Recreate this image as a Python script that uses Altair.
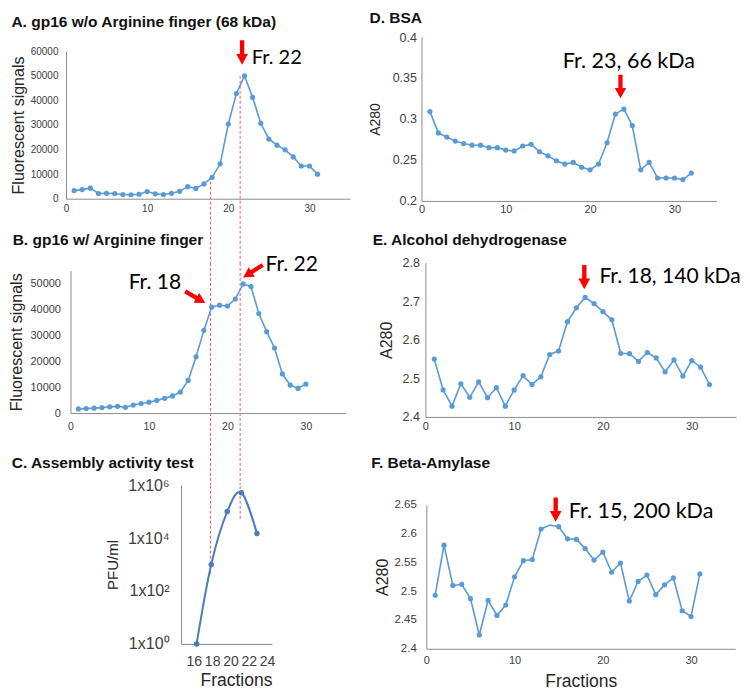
import altair as alt
import pandas as pd

# ---------------- data ----------------
a_fraction = list(range(1, 32))
a_signal = [3300, 3700, 4300, 2100, 2200, 2100, 1700, 1600, 1800, 2900, 2000, 1700,
            2200, 3000, 4900, 4200, 6000, 8700, 14200, 30400, 42800, 50000, 41200,
            30700, 24300, 21800, 19900, 17000, 13300, 13300, 10000]

b_fraction = list(range(1, 31))
b_signal = [1600, 1750, 1900, 2100, 2400, 2600, 2200, 3100, 3700, 4200, 4900, 5700,
            6600, 8100, 12600, 21700, 31900, 40900, 41600, 41300, 44000, 49800, 48800,
            38400, 31400, 25100, 15100, 10800, 9500, 11200]

c_fraction = [16.3, 17.9, 19.65, 21.2, 22.9]
c_pfu = [1, 1000, 100000, 520000, 15000]

d_fraction = list(range(1, 33))
d_a280 = [0.309, 0.283, 0.278, 0.273, 0.270, 0.268, 0.268, 0.265, 0.265, 0.262, 0.261,
          0.267, 0.269, 0.260, 0.255, 0.249, 0.245, 0.247, 0.241, 0.238, 0.245, 0.271,
          0.306, 0.312, 0.292, 0.238, 0.247, 0.228, 0.228, 0.228, 0.226, 0.234]

e_fraction = list(range(1, 33))
e_a280 = [2.550, 2.470, 2.428, 2.486, 2.451, 2.491, 2.450, 2.476, 2.428, 2.470, 2.507,
          2.484, 2.504, 2.562, 2.571, 2.647, 2.683, 2.710, 2.694, 2.673, 2.652, 2.565,
          2.564, 2.544, 2.567, 2.553, 2.517, 2.548, 2.506, 2.546, 2.529, 2.484]

f_fraction = list(range(1, 32))
f_a280 = [2.493, 2.580, 2.510, 2.512, 2.487, 2.424, 2.484, 2.458, 2.476, 2.525, 2.553,
          2.555, 2.608, 2.615, 2.612, 2.591, 2.590, 2.574, 2.554, 2.568, 2.533, 2.549,
          2.483, 2.517, 2.528, 2.494, 2.511, 2.523, 2.466, 2.456, 2.530]
f_no_marker = 14

# dashed guide lines (fractions in panel A units), start in A, end in C
dash_fraction = [17.8, 21.46]
dash_start_a = [9000, 50000]
dash_end_c = [450, 53000]

# annotations
a_arrow = ([21.7], [59500], [0])
a_text = ([22.9], [55000], ["Fr. 22"])
b_arrow = ([15.9, 23.25], [44700, 54700], [300, 57])
b_text_left = ([14.1], [47900], ["Fr. 18"])
b_text_right = ([24.85], [54770], ["Fr. 22"])
d_arrow = ([23.6], [0.3396], [0])
d_text = ([16.76], [0.3618], ["Fr. 23, 66 kDa"])
e_arrow = ([17.9], [2.7628], [0])
e_text = ([19.6], [2.7464], ["Fr. 18, 140 kDa"])
f_arrow = ([14.66], [2.6417], [0])
f_text = ([16.13], [2.6264], ["Fr. 15, 200 kDa"])

# ---------------- style ----------------
FONT = "Liberation Sans, Arial, sans-serif"
ANN_FONT = "Lato, Carlito, sans-serif"
BLUE = "#5b9bd5"
CBLUE = "#4a7ebb"
RED = "#ff0000"
DASH_RED = "#ff5a5a"
AXIS_GRAY = "#8c8c8c"
LABEL = "#404040"
TXT = "#262626"
ARROW = "M -0.18 -1 L 0.18 -1 L 0.18 0.12 L 0.48 0.12 L 0 1 L -0.48 0.12 L -0.18 0.12 Z"

# ---------------- layout ----------------
SX, SY = 0.975, 0.97
# plot rectangles of the original figure (x1, y1, x2, y2)
RECT = {"A": (58.7, 40.7, 350, 192.7), "B": (63.3, 266.7, 345, 413.7),
        "C": (176.7, 488, 270, 651.7), "D": (423.3, 26, 726, 195),
        "E": (427.3, 258.7, 746, 417.7), "F": (428.3, 508.3, 745, 656.7)}
COL_ORG = [58.7, 423.3]
ROW_ORG = [26, 258.7, 488]


def gx(x):
    return SX * (x - COL_ORG[0])


def gy(y):
    return SY * (y - ROW_ORG[0])


COLS = [0, round(gx(COL_ORG[1]))]
ROWS = [0, round(gy(ROW_ORG[1])), round(gy(ROW_ORG[2]))]
COL_W = [COLS[1], round(gx(746) - COLS[1])]
ROW_H = [ROWS[1], ROWS[2] - ROWS[1], round(gy(656.7) - ROWS[2]) + 1]


def cell(key, col, row):
    x1, y1, x2, y2 = RECT[key]
    return (gx(x1) - COLS[col], gy(y1) - ROWS[row], SX * (x2 - x1), SY * (y2 - y1))


PA, PB, PC = cell("A", 0, 0), cell("B", 0, 1), cell("C", 0, 2)
PD, PE, PF = cell("D", 1, 0), cell("E", 1, 1), cell("F", 1, 2)
C_DOM = [14.6, 24.55]
ASZ = 625 * SX * SY


def x_axis(values, size, pad, offset, title=None, title_x=0, title_y=0, title_size=17):
    kw = dict(values=values, labelFontSize=size, labelPadding=pad, labelFont=FONT,
              labelColor=LABEL, ticks=False, grid=False, domainColor=AXIS_GRAY,
              domainWidth=1, labelFlush=False, labelOverlap=False, offset=offset)
    if title:
        kw.update(title=title, titleFont=FONT, titleFontSize=title_size,
                  titleFontWeight="normal", titleColor=TXT, titleX=title_x,
                  titleY=title_y, titleAlign="center", titleBaseline="alphabetic",
                  titleAngle=0)
    else:
        kw["title"] = None
    return alt.Axis(**kw)


def y_axis(values, size, pad, title, title_size, title_dx, pa, fmt=None, expr=None):
    x0, y0, w, h = pa
    kw = dict(values=values, labelFontSize=size, labelPadding=pad, labelFont=FONT,
              labelColor=LABEL, ticks=False, grid=False, domainColor=AXIS_GRAY,
              domainWidth=1, labelOverlap=False, offset=-x0,
              title=title, titleFont=FONT, titleFontSize=title_size,
              titleFontWeight="normal", titleColor=TXT, titleX=SX * title_dx,
              titleY=y0 + h / 2, titleAngle=270, titleAlign="center", titleBaseline="middle")
    if fmt:
        kw["format"] = fmt
    if expr:
        kw["labelExpr"] = expr
    return alt.Axis(**kw)


def enc(xdom, ydom, xax, yax, pa, ytype="linear"):
    x0, y0, w, h = pa
    X = alt.X("x:Q", scale=alt.Scale(domain=xdom, range=[x0, x0 + w], nice=False, zero=False),
              axis=xax)
    Y = alt.Y("y:Q", scale=alt.Scale(type=ytype, domain=ydom, range=[y0 + h, y0], nice=False,
                                     zero=False), axis=yax)
    return X, Y


def series(X, Y, xs, ys, color=BLUE, interp="linear", lw=1.6, psize=27, hide=None):
    df = pd.DataFrame({"x": xs, "y": ys})
    line = alt.Chart(df).mark_line(color=color, strokeWidth=lw, interpolate=interp).encode(x=X, y=Y)
    pts = alt.Chart(df).mark_point(filled=True, size=psize, color=color, opacity=1).encode(x=X, y=Y)
    if hide is not None:
        pts = pts.transform_filter(f"datum.x != {hide}")
    return [line, pts]


def arrows(X, Y, spec, size=ASZ):
    xs, ys, angs = spec
    df = pd.DataFrame({"x": xs, "y": ys, "a": angs})
    return alt.Chart(df).mark_point(shape=ARROW, filled=True, color=RED, opacity=1,
                                    strokeWidth=0, size=size, clip=False).encode(
        x=X, y=Y, angle=alt.Angle("a:Q", scale=None))


def note(X, Y, spec, size, align="left"):
    xs, ys, ts = spec
    df = pd.DataFrame({"x": xs, "y": ys, "t": ts})
    return alt.Chart(df).mark_text(font=ANN_FONT, fontSize=size, align=align,
                                   baseline="alphabetic", color="#000000", clip=False).encode(
        x=X, y=Y, text="t:N")


def ptitle(txt, pa, dx, dy):
    return alt.Chart(pd.DataFrame({"t": [txt]})).mark_text(
        font=FONT, fontSize=15.5, fontWeight="bold", align="left", baseline="alphabetic",
        color="#111111").encode(x=alt.value(pa[0] + SX * dx), y=alt.value(pa[1] + SY * dy),
                                text="t:N")


def xoff(pa, row):
    return -(ROW_H[row] - (pa[1] + pa[3]))


# dashed guides: same pixel column in A, B and C
dash_px = [PA[0] + f / 35 * PA[2] for f in dash_fraction]
dash_b = [(p - PB[0]) / PB[2] * 35 for p in dash_px]
dash_c = [C_DOM[0] + (p - PC[0]) / PC[2] * (C_DOM[1] - C_DOM[0]) for p in dash_px]

# ---------------- panel A ----------------
XA, YA = enc([0, 35], [0, 60000],
             x_axis([0, 10, 20, 30], 10, 5, xoff(PA, 0)),
             y_axis(list(range(0, 60001, 10000)), 10, 8, "Fluorescent signals", 16, -48.7, PA, fmt="d"),
             PA)
rules_a = alt.Chart(pd.DataFrame({"x": dash_fraction, "y": dash_start_a})).mark_rule(
    color=DASH_RED, strokeWidth=1, strokeDash=[3, 2], clip=False).encode(
    x=XA, y=YA, y2=alt.value(ROW_H[0]))
panel_a = alt.layer(rules_a, *series(XA, YA, a_fraction, a_signal),
                    arrows(XA, YA, a_arrow), note(XA, YA, a_text, 20),
                    ptitle("A. gp16 w/o Arginine finger (68 kDa)", PA, -56, -24.7)
                    ).properties(width=COL_W[0], height=ROW_H[0])

# ---------------- panel B ----------------
XB, YB = enc([0, 35], [0, 55000],
             x_axis([0, 10, 20, 30], 10.5, 8, xoff(PB, 1)),
             y_axis(list(range(0, 50001, 10000)), 11, 10, "Fluorescent signals", 16, -55.4, PB, fmt="d"),
             PB)
rules_b = alt.Chart(pd.DataFrame({"x": dash_b})).mark_rule(
    color=DASH_RED, strokeWidth=1, strokeDash=[3, 2], clip=False).encode(
    x=XB, y=alt.value(0), y2=alt.value(ROW_H[1]))
panel_b = alt.layer(rules_b, *series(XB, YB, b_fraction, b_signal),
                    arrows(XB, YB, b_arrow, ASZ * 0.92), note(XB, YB, b_text_left, 21, "right"),
                    note(XB, YB, b_text_right, 21, "left"),
                    ptitle("B. gp16 w/ Arginine finger", PB, -59.3, -26.7)
                    ).properties(width=COL_W[0], height=ROW_H[1])

# ---------------- panel C ----------------
c_expr = ("datum.value < 10 ? '1x10\u2070' : datum.value < 1000 ? '1x10\u00b2' : "
          "datum.value < 100000 ? '1x10\u2074' : '1x10\u2076'")
XC, YC = enc(C_DOM, [1, 1000000],
             x_axis([16, 18, 20, 22, 24], 14, 11, xoff(PC, 2), "Fractions",
                    PC[0] + SX * 56.3, SY * 43, 17.5),
             y_axis([1, 100, 10000, 1000000], 16, 12, "PFU/ml", 15, -70, PC, expr=c_expr),
             PC, ytype="log")
rules_c = alt.Chart(pd.DataFrame({"x": dash_c, "y": dash_end_c})).mark_rule(
    color=DASH_RED, strokeWidth=1, strokeDash=[3, 2], clip=False).encode(
    x=XC, y=YC, y2=alt.value(0))
panel_c = alt.layer(rules_c, *series(XC, YC, c_fraction, c_pfu, color=CBLUE, interp="cardinal",
                                     lw=2, psize=30),
                    ptitle("C. Assembly activity test", PC, -173.7, -18)
                    ).properties(width=COL_W[0], height=ROW_H[2])

# ---------------- panel D ----------------
XD, YD = enc([0, 35], [0.2, 0.4],
             x_axis([0, 10, 20, 30], 11, 3, xoff(PD, 0)),
             y_axis([0.2, 0.25, 0.3, 0.35, 0.4], 12.5, 5, "A280", 14, -47.3, PD, fmt="~g"),
             PD)
panel_d = alt.layer(*series(XD, YD, d_fraction, d_a280),
                    arrows(XD, YD, d_arrow, ASZ * 0.95), note(XD, YD, d_text, 21.5),
                    ptitle("D. BSA", PD, -53.3, -14.3)
                    ).properties(width=COL_W[1], height=ROW_H[0])

# ---------------- panel E ----------------
XE, YE = enc([0, 35], [2.4, 2.8],
             x_axis([0, 10, 20, 30], 11, 4, xoff(PE, 1)),
             y_axis([2.4, 2.5, 2.6, 2.7, 2.8], 12.5, 6, "A280", 16, -39.8, PE, fmt=".1f"),
             PE)
panel_e = alt.layer(*series(XE, YE, e_fraction, e_a280),
                    arrows(XE, YE, e_arrow), note(XE, YE, e_text, 21),
                    ptitle("E. Alcohol dehydrogenase", PE, -54, -18.7)
                    ).properties(width=COL_W[1], height=ROW_H[1])

# ---------------- panel F ----------------
XF, YF = enc([0, 35], [2.4, 2.65],
             x_axis([0, 10, 20, 30], 11, 6, xoff(PF, 2), "Fractions",
                    PF[0] + SX * 158.4, SY * 38.5, 17.5),
             y_axis([2.4, 2.45, 2.5, 2.55, 2.6, 2.65], 11.5, 10, "A280", 16, -45, PF, fmt="~g"),
             PF)
panel_f = alt.layer(*series(XF, YF, f_fraction, f_a280, hide=f_no_marker),
                    arrows(XF, YF, f_arrow), note(XF, YF, f_text, 21.5),
                    ptitle("F. Beta-Amylase", PF, -56.6, -38.3)
                    ).properties(width=COL_W[1], height=ROW_H[2])

chart = alt.concat(panel_a, panel_d, panel_b, panel_e, panel_c, panel_f,
                   columns=2, spacing=0, align="each", bounds="flush").properties(
    padding={"top": 3, "left": 0, "right": 0, "bottom": 0},
    background="white").configure_view(stroke=None)

chart.save("out.html", embed_options={"renderer": "svg", "actions": False})
